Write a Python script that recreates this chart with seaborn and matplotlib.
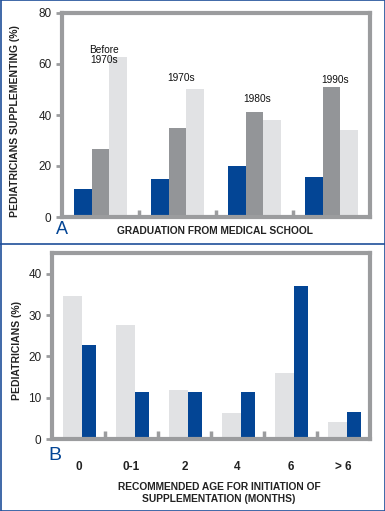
import matplotlib
matplotlib.use("Agg")
import matplotlib.pyplot as plt
import numpy as np
import pandas as pd
import seaborn as sns
from matplotlib.lines import Line2D

sns.set_theme(style="white")
plt.rcParams["font.family"] = ["Liberation Sans", "DejaVu Sans"]

BLUE = "#034595"
MID = "#939598"
LIGHT = "#e1e2e4"
SPINE = "#9b9c9e"

# panel A data
decades = ["Before\n1970s", "1970s", "1980s", "1990s"]
series_a = ["s1", "s2", "s3"]
blue_a = [11, 15, 20, 15.5]
gray_a = [26.7, 35, 41.3, 51]
light_a = [62.8, 50.3, 38.2, 34]
label_y_a = [63.5, 54.5, 46.3, 53.6]

# panel B data
ages = ["0", "0-1", "2", "4", "6", "> 6"]
light_b = [34.7, 27.7, 11.9, 6.4, 16, 4]
blue_b = [22.7, 11.4, 11.4, 11.4, 37, 6.6]

df_a = pd.DataFrame({
    "group": np.repeat(decades, 3),
    "series": series_a * len(decades),
    "value": np.ravel(np.column_stack([blue_a, gray_a, light_a])),
})
df_b = pd.DataFrame({
    "group": np.repeat(ages, 2),
    "series": ["light", "blue"] * len(ages),
    "value": np.ravel(np.column_stack([light_b, blue_b])),
})

fig = plt.figure(figsize=(3.85, 5.11), dpi=100)
W, H = 385, 511


def px_axes(left, top, right, bottom):
    return fig.add_axes([left / W, 1 - bottom / H, (right - left) / W, (bottom - top) / H])


def style_axes(ax):
    for s in ax.spines.values():
        s.set_color(SPINE)
        s.set_linewidth(3)
        s.set_visible(True)
    ax.tick_params(axis="y", colors=SPINE, length=4, width=2, direction="out",
                   labelcolor="#222222", labelsize=8.5, left=True)
    ax.set_xlabel("")
    ax.set_ylabel("")
    ax.grid(False)
    if ax.get_legend():
        ax.get_legend().remove()


# ---- Panel A
ax1 = px_axes(62, 13, 370, 217)
sns.barplot(data=df_a, x="group", y="value", hue="series", order=decades,
            hue_order=series_a, palette=[BLUE, MID, LIGHT], width=0.69,
            saturation=1, errorbar=None, ax=ax1, legend=False, linewidth=0)
style_axes(ax1)
ax1.set_ylim(0, 80)
ax1.set_xlim(-0.5, len(decades) - 0.5)
ax1.set_yticks([0, 20, 40, 60, 80])
ax1.set_xticks([])
ax1.vlines(np.arange(len(decades) - 1) + 0.5, 0, 2.8, color=SPINE, lw=2.5, clip_on=False)
for i, (lab, y) in enumerate(zip(decades, label_y_a)):
    ax1.text(i + 0.04, y, lab, ha="center", va="center", fontsize=7.3,
             linespacing=0.9, color="#111111")

fig.text(15 / W, 1 - 121 / H, "PEDIATRICIANS SUPPLEMENTING (%)", rotation=90,
         ha="center", va="center", fontsize=7.5, fontweight="bold", color="#222222")
fig.text(215 / W, 1 - 231 / H, "GRADUATION FROM MEDICAL SCHOOL",
         ha="center", va="center", fontsize=7.4, fontweight="bold", color="#222222")
fig.text(62 / W, 1 - 229 / H, "A", ha="center", va="center", fontsize=13, color=BLUE)

# ---- Panel B
ax2 = px_axes(52, 253, 370, 439)
sns.barplot(data=df_b, x="group", y="value", hue="series", order=ages,
            hue_order=["light", "blue"], palette=[LIGHT, BLUE], width=0.62,
            saturation=1, errorbar=None, ax=ax2, legend=False, linewidth=0)
# light bars are a little wider than the blue ones in the original
light_bars, blue_bars = ax2.containers[0], ax2.containers[1]
for i, p in enumerate(light_bars):
    p.set_x(i - 0.30)
    p.set_width(0.36)
for i, p in enumerate(blue_bars):
    p.set_x(i + 0.06)
    p.set_width(0.27)
style_axes(ax2)
ax2.set_ylim(0, 45)
ax2.set_xlim(-0.5, len(ages) - 0.5)
ax2.set_yticks([0, 10, 20, 30, 40])
ax2.tick_params(axis="x", length=0, pad=16, labelsize=8.5, labelcolor="#222222")
for t in ax2.get_xticklabels():
    t.set_fontweight("bold")
ax2.vlines(np.arange(len(ages) - 1) + 0.5, 0, 2.0, color=SPINE, lw=2.5, clip_on=False)

fig.text(17 / W, 1 - 350 / H, "PEDIATRICIANS (%)", rotation=90,
         ha="center", va="center", fontsize=7.5, fontweight="bold", color="#222222")
fig.text(219 / W, 1 - 493 / H,
         "RECOMMENDED AGE FOR INITIATION OF\nSUPPLEMENTATION (MONTHS)",
         ha="center", va="center", fontsize=7.4, fontweight="bold", color="#222222",
         linespacing=1.25)
fig.text(55 / W, 1 - 456 / H, "B", ha="center", va="center", fontsize=14, color=BLUE)

# frame and divider
for xs, ys in [([0.5, 384.5], [0.5, 0.5]), ([0.5, 384.5], [510.5, 510.5]),
               ([0.5, 0.5], [0.5, 510.5]), ([384.5, 384.5], [0.5, 510.5]),
               ([0, 385], [244, 244])]:
    fig.add_artist(Line2D([x / W for x in xs], [1 - y / H for y in ys],
                          color="#1f4f9a", lw=1.2))

fig.savefig("out.png", dpi=100)
